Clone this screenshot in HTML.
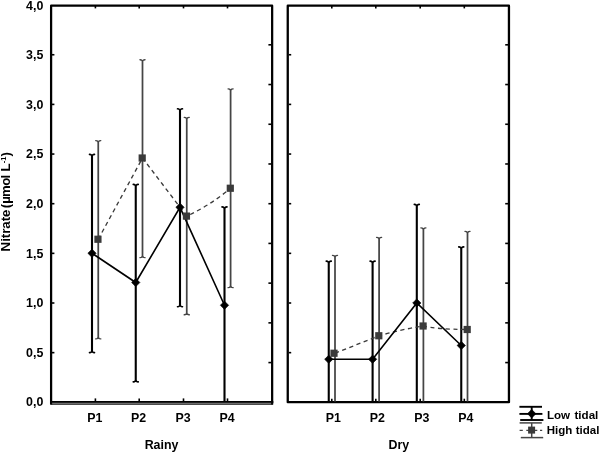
<!DOCTYPE html>
<html lang="en"><head><meta charset="utf-8"><title>Nitrate chart</title>
<style>
html,body{margin:0;padding:0;background:#fff;}
body{width:600px;height:453px;overflow:hidden;font-family:"Liberation Sans",Arial,sans-serif;}
svg{display:block;filter:blur(0.35px);}
</style></head><body>
<svg width="600" height="453" viewBox="0 0 600 453">
<rect width="600" height="453" fill="#fff"/>
<g fill="none" stroke="#000" stroke-linecap="butt">
<path d="M51.1 404.5V5.65H272.15V404.5" stroke-width="2.25" stroke-linejoin="round"/>
<path d="M50 401.95H273.3" stroke-width="1.9"/>
<path d="M52 403.2H271.2" stroke-width="0.7" stroke="#999"/>
<path d="M50.5 404.1H273" stroke-width="1.1" stroke="#111"/>
<path d="M287.75 402.15V5.65H508.95V402.15Z" stroke-width="2.3" stroke-linejoin="round"/>
</g>
<g stroke="#000" stroke-width="1.6" fill="none">
<path d="M52 352.65h2.4"/>
<path d="M288.8 352.65h2.4"/>
<path d="M52 303.00h2.4"/>
<path d="M288.8 303.00h2.4"/>
<path d="M52 253.35h2.4"/>
<path d="M288.8 253.35h2.4"/>
<path d="M52 203.70h2.4"/>
<path d="M288.8 203.70h2.4"/>
<path d="M52 154.05h2.4"/>
<path d="M288.8 154.05h2.4"/>
<path d="M52 104.40h2.4"/>
<path d="M288.8 104.40h2.4"/>
<path d="M52 54.75h2.4"/>
<path d="M288.8 54.75h2.4"/>
<path d="M271.2 44.82h-2.8"/>
<path d="M508 44.82h-2.8"/>
<path d="M271.2 84.54h-2.8"/>
<path d="M508 84.54h-2.8"/>
<path d="M271.2 124.26h-2.8"/>
<path d="M508 124.26h-2.8"/>
<path d="M271.2 163.98h-2.8"/>
<path d="M508 163.98h-2.8"/>
<path d="M271.2 203.70h-2.8"/>
<path d="M508 203.70h-2.8"/>
<path d="M271.2 243.42h-2.8"/>
<path d="M508 243.42h-2.8"/>
<path d="M271.2 283.14h-2.8"/>
<path d="M508 283.14h-2.8"/>
<path d="M271.2 322.86h-2.8"/>
<path d="M508 322.86h-2.8"/>
<path d="M271.2 362.58h-2.8"/>
<path d="M508 362.58h-2.8"/>
<path d="M95.4 6v2.4"/>
<path d="M95.4 401v-2.6"/>
<path d="M139.2 6v2.4"/>
<path d="M139.2 401v-2.6"/>
<path d="M183.5 6v2.4"/>
<path d="M183.5 401v-2.6"/>
<path d="M227.5 6v2.4"/>
<path d="M227.5 401v-2.6"/>
<path d="M331.8 6v2.4"/>
<path d="M331.8 401.5v-2.8"/>
<path d="M375.8 6v2.4"/>
<path d="M375.8 401.5v-2.8"/>
<path d="M420.2 6v2.4"/>
<path d="M420.2 401.5v-2.8"/>
<path d="M464.3 6v2.4"/>
<path d="M464.3 401.5v-2.8"/>
</g>
<path d="M98.25 141.35V338.15" stroke="#454545" stroke-width="1.75" fill="none"/>
<path d="M95.75 140.65L97.05 140.9L98.25 141.75L99.45 140.9L100.75 140.65" stroke="#454545" stroke-width="1.4" stroke-linecap="round" stroke-linejoin="round" fill="none"/>
<path d="M95.75 338.85L97.05 338.6L98.25 337.75L99.45 338.6L100.75 338.85" stroke="#454545" stroke-width="1.4" stroke-linecap="round" stroke-linejoin="round" fill="none"/>
<path d="M142.5 60.4V256.9" stroke="#454545" stroke-width="1.75" fill="none"/>
<path d="M140.0 59.699999999999996L141.3 59.949999999999996L142.5 60.8L143.7 59.949999999999996L145.0 59.699999999999996" stroke="#454545" stroke-width="1.4" stroke-linecap="round" stroke-linejoin="round" fill="none"/>
<path d="M140.0 257.6L141.3 257.35L142.5 256.5L143.7 257.35L145.0 257.6" stroke="#454545" stroke-width="1.4" stroke-linecap="round" stroke-linejoin="round" fill="none"/>
<path d="M186.75 118.1V314.09999999999997" stroke="#454545" stroke-width="1.75" fill="none"/>
<path d="M184.25 117.4L185.55 117.65L186.75 118.5L187.95 117.65L189.25 117.4" stroke="#454545" stroke-width="1.4" stroke-linecap="round" stroke-linejoin="round" fill="none"/>
<path d="M184.25 314.8L185.55 314.55L186.75 313.7L187.95 314.55L189.25 314.8" stroke="#454545" stroke-width="1.4" stroke-linecap="round" stroke-linejoin="round" fill="none"/>
<path d="M230.6 89.6V286.9" stroke="#454545" stroke-width="1.75" fill="none"/>
<path d="M228.1 88.9L229.4 89.15L230.6 90.0L231.79999999999998 89.15L233.1 88.9" stroke="#454545" stroke-width="1.4" stroke-linecap="round" stroke-linejoin="round" fill="none"/>
<path d="M228.1 287.6L229.4 287.35L230.6 286.5L231.79999999999998 287.35L233.1 287.6" stroke="#454545" stroke-width="1.4" stroke-linecap="round" stroke-linejoin="round" fill="none"/>
<path d="M335 256.1V401.5" stroke="#454545" stroke-width="1.75" fill="none"/>
<path d="M332.5 255.4L333.8 255.65L335 256.5L336.2 255.65L337.5 255.4" stroke="#454545" stroke-width="1.4" stroke-linecap="round" stroke-linejoin="round" fill="none"/>
<path d="M379.1 238.1V401.5" stroke="#454545" stroke-width="1.75" fill="none"/>
<path d="M376.6 237.4L377.90000000000003 237.65L379.1 238.5L380.3 237.65L381.6 237.4" stroke="#454545" stroke-width="1.4" stroke-linecap="round" stroke-linejoin="round" fill="none"/>
<path d="M423.4 228.6V401.5" stroke="#454545" stroke-width="1.75" fill="none"/>
<path d="M420.9 227.9L422.2 228.15L423.4 229.0L424.59999999999997 228.15L425.9 227.9" stroke="#454545" stroke-width="1.4" stroke-linecap="round" stroke-linejoin="round" fill="none"/>
<path d="M467.5 232.1V401.5" stroke="#454545" stroke-width="1.75" fill="none"/>
<path d="M465.0 231.4L466.3 231.65L467.5 232.5L468.7 231.65L470.0 231.4" stroke="#454545" stroke-width="1.4" stroke-linecap="round" stroke-linejoin="round" fill="none"/>
<path d="M92 155.1V351.9" stroke="#000" stroke-width="2.1" fill="none"/>
<path d="M89.5 154.4L90.8 154.65L92 155.5L93.2 154.65L94.5 154.4" stroke="#000" stroke-width="1.6" stroke-linecap="round" stroke-linejoin="round" fill="none"/>
<path d="M89.5 352.6L90.8 352.35L92 351.5L93.2 352.35L94.5 352.6" stroke="#000" stroke-width="1.6" stroke-linecap="round" stroke-linejoin="round" fill="none"/>
<path d="M135.75 185.1V381.15" stroke="#000" stroke-width="2.1" fill="none"/>
<path d="M133.25 184.4L134.55 184.65L135.75 185.5L136.95 184.65L138.25 184.4" stroke="#000" stroke-width="1.6" stroke-linecap="round" stroke-linejoin="round" fill="none"/>
<path d="M133.25 381.85L134.55 381.6L135.75 380.75L136.95 381.6L138.25 381.85" stroke="#000" stroke-width="1.6" stroke-linecap="round" stroke-linejoin="round" fill="none"/>
<path d="M180 109.5V306.0" stroke="#000" stroke-width="2.1" fill="none"/>
<path d="M177.5 108.80000000000001L178.8 109.05000000000001L180 109.9L181.2 109.05000000000001L182.5 108.80000000000001" stroke="#000" stroke-width="1.6" stroke-linecap="round" stroke-linejoin="round" fill="none"/>
<path d="M177.5 306.70000000000005L178.8 306.45000000000005L180 305.6L181.2 306.45000000000005L182.5 306.70000000000005" stroke="#000" stroke-width="1.6" stroke-linecap="round" stroke-linejoin="round" fill="none"/>
<path d="M224.5 207.6V401" stroke="#000" stroke-width="2.1" fill="none"/>
<path d="M222.0 206.9L223.3 207.15L224.5 208.0L225.7 207.15L227.0 206.9" stroke="#000" stroke-width="1.6" stroke-linecap="round" stroke-linejoin="round" fill="none"/>
<path d="M328.75 261.85V401.5" stroke="#000" stroke-width="2.1" fill="none"/>
<path d="M326.25 261.15L327.55 261.4L328.75 262.25L329.95 261.4L331.25 261.15" stroke="#000" stroke-width="1.6" stroke-linecap="round" stroke-linejoin="round" fill="none"/>
<path d="M372.6 261.85V401.5" stroke="#000" stroke-width="2.1" fill="none"/>
<path d="M370.1 261.15L371.40000000000003 261.4L372.6 262.25L373.8 261.4L375.1 261.15" stroke="#000" stroke-width="1.6" stroke-linecap="round" stroke-linejoin="round" fill="none"/>
<path d="M416.8 205.1V401.5" stroke="#000" stroke-width="2.1" fill="none"/>
<path d="M414.3 204.4L415.6 204.65L416.8 205.5L418.0 204.65L419.3 204.4" stroke="#000" stroke-width="1.6" stroke-linecap="round" stroke-linejoin="round" fill="none"/>
<path d="M461.25 247.6V401.5" stroke="#000" stroke-width="2.1" fill="none"/>
<path d="M458.75 246.9L460.05 247.15L461.25 248.0L462.45 247.15L463.75 246.9" stroke="#000" stroke-width="1.6" stroke-linecap="round" stroke-linejoin="round" fill="none"/>
<path d="M98.25 239.25 L142.5 158 L186.75 216.1 Q209.675 205.675 230.6 188.25" stroke="#3a3a3a" stroke-width="1.35" stroke-dasharray="4.2 3.5" fill="none"/>
<path d="M335 353.25 L379.1 335.75 Q402.1 329.2 423.4 326 Q435.4 329.2 467.5 329.5" stroke="#3a3a3a" stroke-width="1.35" stroke-dasharray="4.2 3.5" fill="none"/>
<path d="M92 253.25 L135.75 282.5 L180 207.3 L224.5 305.25" stroke="#000" stroke-width="1.6" fill="none"/>
<path d="M328.75 359.25 L372.6 359.25 L416.8 303 L461.25 345.5" stroke="#000" stroke-width="1.6" fill="none"/>
<rect x="94.35000000000001" y="235.65" width="7.2" height="7.2" fill="#3a3a3a"/>
<rect x="138.6" y="154.4" width="7.2" height="7.2" fill="#3a3a3a"/>
<rect x="182.85" y="212.5" width="7.2" height="7.2" fill="#3a3a3a"/>
<rect x="226.7" y="184.65" width="7.2" height="7.2" fill="#3a3a3a"/>
<rect x="330.4" y="349.65" width="7.2" height="7.2" fill="#3a3a3a"/>
<rect x="375.2" y="332.15" width="7.2" height="7.2" fill="#3a3a3a"/>
<rect x="419.49999999999994" y="322.4" width="7.2" height="7.2" fill="#3a3a3a"/>
<rect x="463.59999999999997" y="325.9" width="7.2" height="7.2" fill="#3a3a3a"/>
<path d="M87.9 253.25L92 249.15L96.1 253.25L92 257.35Z" fill="#000" stroke="#000" stroke-width="0.7" stroke-linejoin="round"/>
<path d="M131.65 282.5L135.75 278.4L139.85 282.5L135.75 286.6Z" fill="#000" stroke="#000" stroke-width="0.7" stroke-linejoin="round"/>
<path d="M175.9 207.3L180 203.20000000000002L184.1 207.3L180 211.4Z" fill="#000" stroke="#000" stroke-width="0.7" stroke-linejoin="round"/>
<path d="M220.4 305.25L224.5 301.15L228.6 305.25L224.5 309.35Z" fill="#000" stroke="#000" stroke-width="0.7" stroke-linejoin="round"/>
<path d="M324.65 359.25L328.75 355.15L332.85 359.25L328.75 363.35Z" fill="#000" stroke="#000" stroke-width="0.7" stroke-linejoin="round"/>
<path d="M368.5 359.25L372.6 355.15L376.70000000000005 359.25L372.6 363.35Z" fill="#000" stroke="#000" stroke-width="0.7" stroke-linejoin="round"/>
<path d="M412.7 303L416.8 298.9L420.90000000000003 303L416.8 307.1Z" fill="#000" stroke="#000" stroke-width="0.7" stroke-linejoin="round"/>
<path d="M457.15 345.5L461.25 341.4L465.35 345.5L461.25 349.6Z" fill="#000" stroke="#000" stroke-width="0.7" stroke-linejoin="round"/>
<g stroke="#000" stroke-width="1.9" fill="none">
<path d="M519.4 406.8H542"/><path d="M519.4 413.9H542.4"/><path d="M520.2 420H543.4"/><path d="M531.7 406.8V420"/>
</g>
<path d="M527.5 413.7L531.7 409.5L535.9000000000001 413.7L531.7 417.9Z" fill="#000" stroke="#000" stroke-width="0.7" stroke-linejoin="round"/>
<g stroke="#454545" stroke-width="1.5" fill="none">
<path d="M519.6 422.9H541.8"/><path d="M520.8 437.6H543.2"/><path d="M531.7 422.9V437.6"/>
<path d="M519.6 430.3h3.2M526.3 430.3h11M540 430.3h2.2" stroke-width="1.3"/>
</g>
<rect x="528.1" y="426.6" width="7" height="7" fill="#3a3a3a"/>
<g font-family="'Liberation Sans', Arial, sans-serif" font-weight="bold" fill="#000">
<text x="43.3" y="406.10" font-size="12.4" text-anchor="end">0,0</text>
<text x="43.3" y="356.58" font-size="12.4" text-anchor="end">0,5</text>
<text x="43.3" y="307.05" font-size="12.4" text-anchor="end">1,0</text>
<text x="43.3" y="257.53" font-size="12.4" text-anchor="end">1,5</text>
<text x="43.3" y="208.00" font-size="12.4" text-anchor="end">2,0</text>
<text x="43.3" y="158.47" font-size="12.4" text-anchor="end">2,5</text>
<text x="43.3" y="108.95" font-size="12.4" text-anchor="end">3,0</text>
<text x="43.3" y="59.42" font-size="12.4" text-anchor="end">3,5</text>
<text x="43.3" y="9.90" font-size="12.4" text-anchor="end">4,0</text>
<text x="94.9" y="421.9" font-size="12.4" text-anchor="middle">P1</text>
<text x="138.7" y="421.9" font-size="12.4" text-anchor="middle">P2</text>
<text x="183.0" y="421.9" font-size="12.4" text-anchor="middle">P3</text>
<text x="227.0" y="421.9" font-size="12.4" text-anchor="middle">P4</text>
<text x="333.40000000000003" y="421.9" font-size="12.4" text-anchor="middle">P1</text>
<text x="377.40000000000003" y="421.9" font-size="12.4" text-anchor="middle">P2</text>
<text x="421.8" y="421.9" font-size="12.4" text-anchor="middle">P3</text>
<text x="465.90000000000003" y="421.9" font-size="12.4" text-anchor="middle">P4</text>
<text x="161.5" y="449.3" font-size="12.4" text-anchor="middle">Rainy</text>
<text x="398.8" y="449.3" font-size="12.4" text-anchor="middle">Dry</text>
<text x="546.9" y="419.4" font-size="11.6">Low</text><text x="574.5" y="419.4" font-size="11.6">tidal</text>
<text x="546.8" y="433.7" font-size="11.5">High</text><text x="575.7" y="433.7" font-size="11.5">tidal</text>
<g transform="translate(10.3 0) rotate(-90)" font-size="13.2">
<text x="-251.4" y="0">Nitrate</text><text x="-208.2" y="0" dx="0 0 -0.7 -0.7 -0.6">(µmol</text><text x="-171.5" y="0">L</text><text x="-163.3" y="-4.6" font-size="7.6">-1</text><text x="-156.4" y="0">)</text>
</g>
</g>
</svg>
</body></html>
